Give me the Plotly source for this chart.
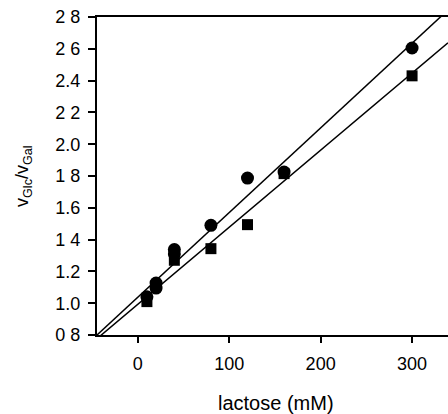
import plotly.graph_objects as go
import numpy as np

# Data
lactose_circ = [10, 20, 20, 40, 40, 80, 120, 160, 300]
ratio_circ = [1.04, 1.127, 1.095, 1.337, 1.31, 1.49, 1.787, 1.825, 2.605]

lactose_sq = [10, 20, 40, 80, 120, 160, 300]
ratio_sq = [1.01, 1.11, 1.27, 1.343, 1.494, 1.815, 2.43]

# Fitted lines (slope, intercept)
fit_circ = (0.005325, 1.0375)
fit_sq = (0.004847, 0.993)

x_range = [-44.6, 339.3]
y_range = [0.8, 2.8]
x_ticks = [0, 100, 200, 300]
x_ticktext = ["0", "100", "200", "300"]
y_ticks = [0.8, 1.0, 1.2, 1.4, 1.6, 1.8, 2.0, 2.2, 2.4, 2.6, 2.8]
y_ticktext = ["0 8", "1.0", "1.2", "1 4", "1.6", "1 8", "2.0", "2 2", "2.4", "2 6", "2 8"]

FONT = "Liberation Sans, Arial, Helvetica, sans-serif"

fig = go.Figure()

xl = np.array(x_range)
for (m, b) in (fit_circ, fit_sq):
    fig.add_trace(go.Scatter(x=xl, y=m * xl + b, mode="lines",
                             line=dict(color="black", width=1.5),
                             showlegend=False, hoverinfo="skip"))

fig.add_trace(go.Scatter(x=lactose_circ, y=ratio_circ, mode="markers",
                         marker=dict(symbol="circle", size=13, color="black"),
                         showlegend=False, cliponaxis=False))
fig.add_trace(go.Scatter(x=lactose_sq, y=ratio_sq, mode="markers",
                         marker=dict(symbol="square", size=11, color="black"),
                         showlegend=False, cliponaxis=False))

fig.update_layout(
    width=448, height=414,
    margin=dict(l=97, r=0, t=17, b=79),
    paper_bgcolor="white", plot_bgcolor="white",
    font=dict(family=FONT, color="black", size=18),
    xaxis=dict(range=x_range, tickvals=x_ticks, ticktext=x_ticktext,
               showgrid=False, zeroline=False, showline=True, linecolor="black",
               linewidth=2, mirror=True, ticks="outside", ticklen=6, tickwidth=1.5,
               tickcolor="black", tickfont=dict(size=18), ticklabelstandoff=5),
    yaxis=dict(range=y_range, tickvals=y_ticks, ticktext=y_ticktext,
               showgrid=False, zeroline=False, showline=True, linecolor="black",
               linewidth=2, mirror=False, ticks="outside", ticklen=7, tickwidth=1.5,
               tickcolor="black", tickfont=dict(size=18), ticklabelstandoff=4),
    annotations=[
        dict(text="lactose (mM)", xref="paper", yref="paper", x=0.51, y=-0.214,
             xanchor="center", yanchor="middle", showarrow=False,
             font=dict(size=20, family=FONT)),
        dict(text="v<sub>Glc</sub>/v<sub>Gal</sub>", xref="paper", yref="paper",
             x=-0.211, y=0.5, xanchor="center", yanchor="middle", textangle=-90,
             showarrow=False, font=dict(size=18, family=FONT)),
    ],
)

fig.write_html("out.html")
